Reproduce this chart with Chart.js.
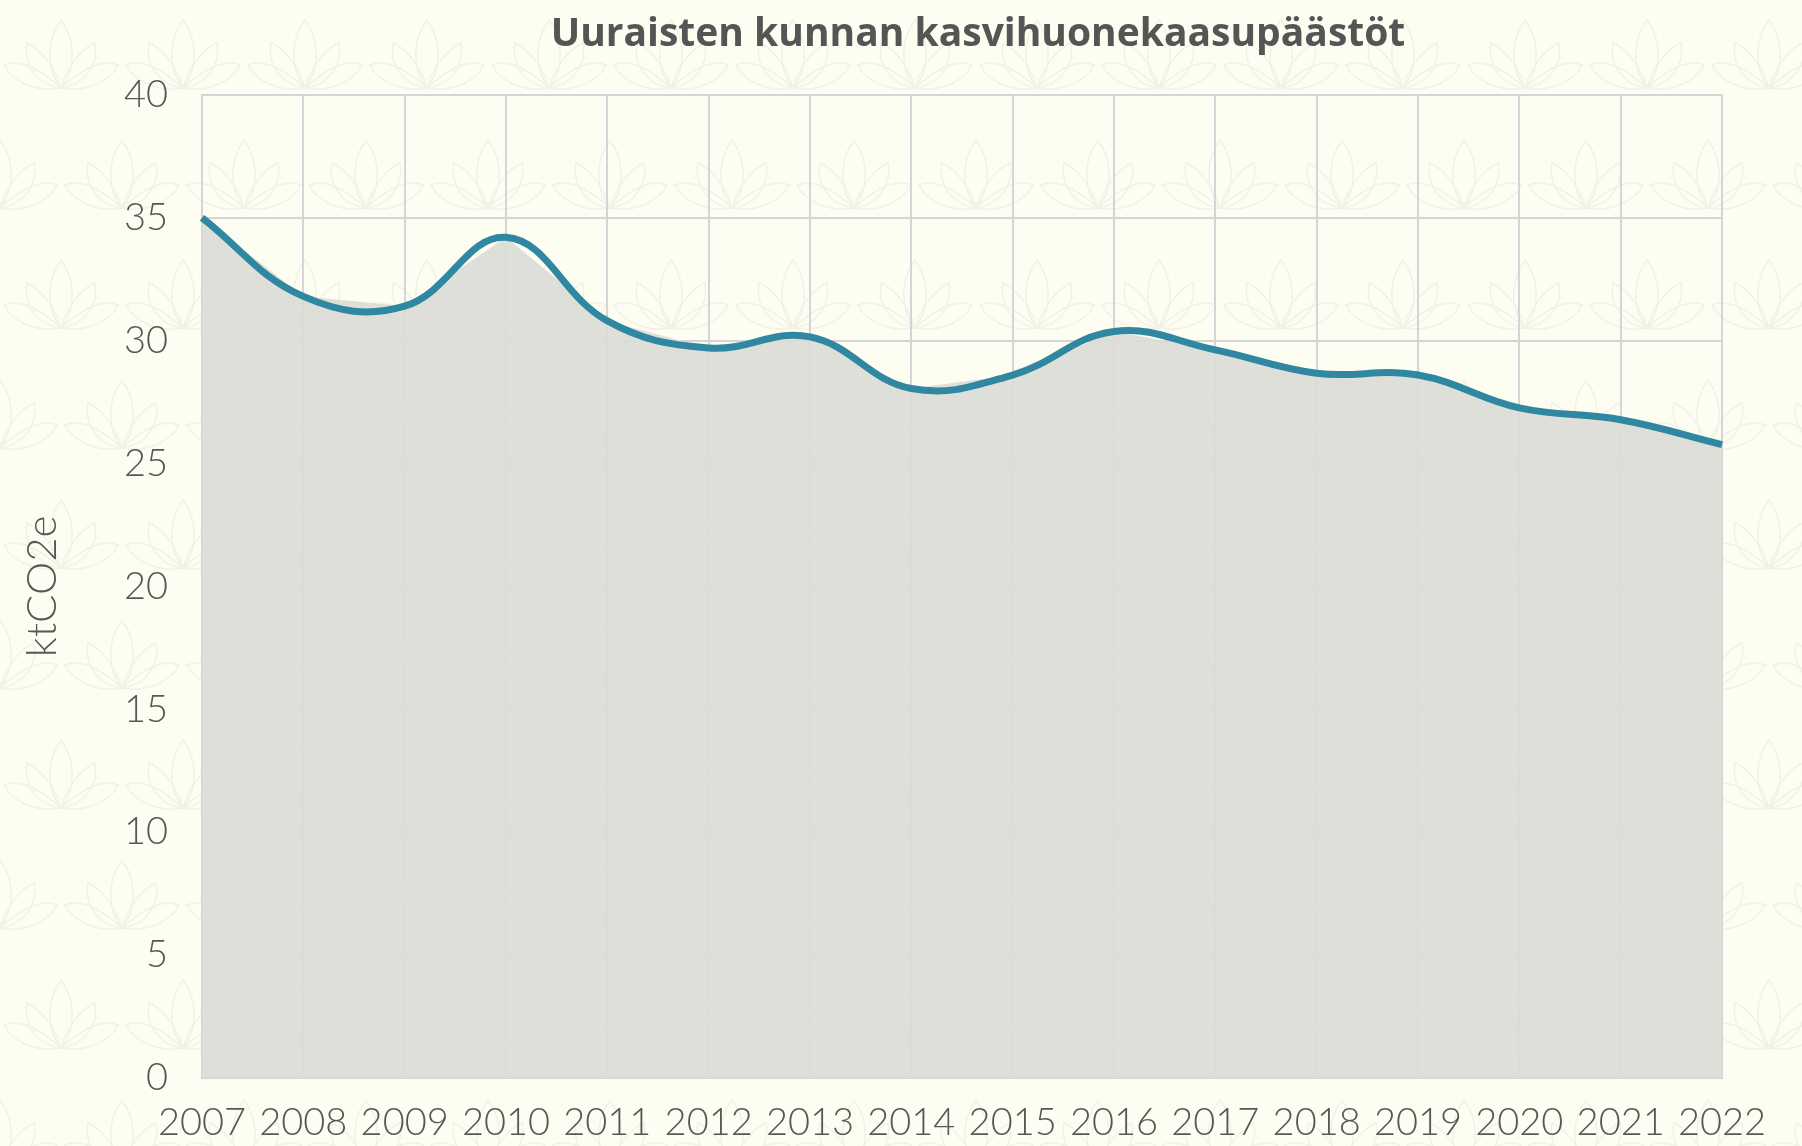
<!DOCTYPE html>
<html lang="fi">
<head>
<meta charset="utf-8">
<title>Uuraisten kunnan kasvihuonekaasupäästöt</title>
<script src="https://cdn.jsdelivr.net/npm/chart.js@4"></script>
<style>
  html, body { margin: 0; padding: 0; }
  body {
    width: 1802px; height: 1146px; overflow: hidden;
    background-color: #fdfdf2;
    background-image: url("data:image/svg+xml,%3Csvg xmlns='http://www.w3.org/2000/svg' width='122' height='240'%3E%3Cdefs%3E%3Cg id='l' fill='none' stroke='%23f1f2e5' stroke-width='1.5'%3E%3Cpath d='M0-40C15-20 15 10 0 28C-15 10-15-20 0-40Z'/%3E%3Cpath d='M0 28C-7 4-22-12-34-17C-38 5-24 25 0 28Z'/%3E%3Cpath d='M0 28C7 4 22-12 34-17C38 5 24 25 0 28Z'/%3E%3Cpath d='M0 28C-26 33-50 20-57 5C-40-2-20 10 0 28Z'/%3E%3Cpath d='M0 28C26 33 50 20 57 5C40-2 20 10 0 28Z'/%3E%3C/g%3E%3C/defs%3E%3Cuse href='%23l' x='61' y='60'/%3E%3Cuse href='%23l' x='0' y='180'/%3E%3Cuse href='%23l' x='122' y='180'/%3E%3C/svg%3E");
  }
  #wrap { position: relative; width: 1802px; height: 1146px; }
</style>
</head>
<body>
<div id="wrap"><canvas id="chart"></canvas></div>
<script>
const years = ["2007","2008","2009","2010","2011","2012","2013","2014","2015","2016","2017","2018","2019","2020","2021","2022"];
const emissions = [35.0, 31.8, 31.4, 34.2, 30.8, 29.7, 30.15, 28.05, 28.6, 30.37, 29.62, 28.67, 28.6, 27.26, 26.78, 25.77];
const yMin = 0;
const yMax = 40;
const yStep = 5;

const titleText = "Uuraisten kunnan kasvihuonekaasupäästöt";
const yTitle = "ktCO2e";

const textColor = "#575757";
const gridColor = "#d5d5d8";

Chart.defaults.font.family = "Lato, 'Open Sans', sans-serif";

// nudge the title a little right of the plot centre, as in the original
const titleShift = {
  id: "titleShift",
  afterLayout(chart){
    const t = chart.titleBlock;
    if (t){ t.left += 16; t.right += 16; }
  }
};

const ctx = document.getElementById("chart");
new Chart(ctx, {
  type: "line",
  data: {
    labels: years,
    datasets: [
      {
        // smoothed line on top
        data: emissions,
        borderColor: "#2f87a1",
        borderWidth: 7,
        tension: 0.4,
        fill: false,
        pointRadius: 0,
        order: 0
      },
      {
        // straight-edged area underneath
        data: emissions,
        borderWidth: 0,
        borderColor: "rgba(0,0,0,0)",
        backgroundColor: "rgba(219,219,215,0.9)",
        tension: 0,
        fill: "origin",
        pointRadius: 0,
        order: 1
      }
    ]
  },
  options: {
    responsive: true,
    maintainAspectRatio: false,
    animation: false,
    layout: { padding: { left: 0, right: 80, top: 0, bottom: 0 } },
    plugins: {
      legend: { display: false },
      tooltip: { enabled: false },
      title: {
        display: true,
        text: titleText,
        fullSize: false,
        color: "#555555",
        font: { family: "'Open Sans', Lato, sans-serif", size: 39, weight: "bold", lineHeight: 1.2 },
        padding: { top: 11, bottom: 37 }
      }
    },
    scales: {
      x: {
        type: "category",
        offset: false,
        grid: { color: gridColor, lineWidth: 2, drawTicks: false },
        border: { color: gridColor, width: 2 },
        ticks: {
          color: textColor,
          font: { size: 38, weight: 300 },
          maxRotation: 0,
          autoSkip: false,
          padding: 22
        },
        afterFit: s => { s.height = 68; }
      },
      y: {
        min: yMin,
        max: yMax,
        grid: { color: gridColor, lineWidth: 2, drawTicks: false },
        border: { color: gridColor, width: 2 },
        ticks: {
          stepSize: yStep,
          color: textColor,
          font: { size: 38, weight: 300 },
          padding: 34
        },
        title: {
          display: true,
          text: yTitle,
          color: textColor,
          font: { size: 42, weight: 300, lineHeight: 1.2 },
          padding: { top: 17, bottom: 0 }
        },
        afterFit: s => { s.width = 202; }
      }
    }
  },
  plugins: [titleShift]
});
</script>
</body>
</html>
